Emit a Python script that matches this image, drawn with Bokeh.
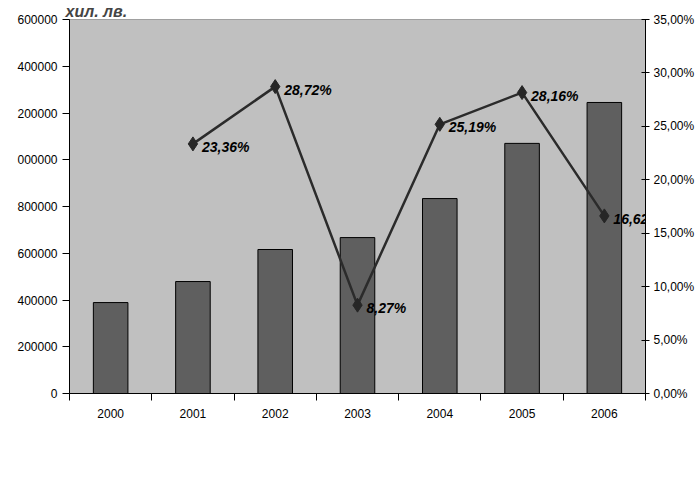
from bokeh.plotting import figure
from bokeh.models import (Range1d, LinearAxis, CategoricalAxis, FixedTicker, Legend,
                          LegendItem, ColumnDataSource, Label)
from bokeh.embed import file_html
from bokeh.resources import INLINE

years = ["2000", "2001", "2002", "2003", "2004", "2005", "2006"]
premium = [389000, 479000, 616000, 667000, 834000, 1070000, 1245000]
growth_years = ["2001", "2002", "2003", "2004", "2005", "2006"]
growth = [23.36, 28.72, 8.27, 25.19, 28.16, 16.62]
left_ticks = [0, 200000, 400000, 600000, 800000, 1000000, 1200000, 1400000, 1600000]
left_tick_labels = ["0", "200000", "400000", "600000", "800000", "000000", "200000", "400000", "600000"]
right_ticks = [0, 5, 10, 15, 20, 25, 30, 35]
right_tick_labels = ["0,00%", "5,00%", "10,00%", "15,00%", "20,00%", "25,00%", "30,00%", "35,00%"]
title_text = "хил. лв."
bar_label = "Брутен премиен приход (хил. лв.)"
line_label = "Годишен ръст (%)"

FONT = "Liberation Sans"

p = figure(x_range=years, y_range=Range1d(0, 1600000),
           frame_width=576, frame_height=374,
           min_border_left=69, min_border_right=45, min_border_top=29, min_border_bottom=10,
           x_axis_location=None, y_axis_location=None,
           output_backend="svg", toolbar_location=None)
p.styles = {"margin-top": "-10px"}
p.extra_y_ranges = {"pct": Range1d(0, 35)}
p.background_fill_color = "#c0c0c0"
p.border_fill_color = "white"
p.outline_line_color = "#a0a0a0"
p.xgrid.visible = False
p.ygrid.visible = False

p.title.text = title_text
p.title.text_font = FONT
p.title.text_font_size = "16px"
p.title.text_font_style = "bold italic"
p.title.align = "left"
p.title.offset = -4
p.title.standoff = 0

left_axis = LinearAxis(ticker=FixedTicker(ticks=left_ticks),
                       major_label_overrides=dict(zip(left_ticks, left_tick_labels)),
                       major_tick_in=0, major_tick_out=7, minor_tick_line_color=None,
                       major_label_standoff=5, axis_line_color="black", major_tick_line_color="black",
                       major_label_text_font=FONT, major_label_text_font_size="12px",
                       major_label_text_color="black")
p.add_layout(left_axis, "left")

right_axis = LinearAxis(y_range_name="pct", ticker=FixedTicker(ticks=right_ticks),
                        major_label_overrides=dict(zip(right_ticks, right_tick_labels)),
                        major_tick_in=4, major_tick_out=4, minor_tick_line_color=None,
                        major_label_standoff=4, axis_line_color="black", major_tick_line_color="black",
                        major_label_text_font=FONT, major_label_text_font_size="12px",
                        major_label_text_color="black")
p.add_layout(right_axis, "right")

bounds = list(range(len(years) + 1))
tick_axis = LinearAxis(ticker=FixedTicker(ticks=bounds),
                       major_label_overrides={b: "" for b in bounds},
                       major_tick_in=0, major_tick_out=7, minor_tick_line_color=None,
                       major_label_text_font_size="1px", major_label_standoff=0,
                       axis_line_color="black", major_tick_line_color="black")
p.add_layout(tick_axis, "below")

cat_axis = CategoricalAxis(axis_line_color=None, major_tick_line_color=None,
                           major_label_standoff=2,
                           major_label_text_font=FONT, major_label_text_font_size="12px",
                           major_label_text_color="black")
p.add_layout(cat_axis, "below")

bars = p.vbar(x=years, top=premium, width=0.42, fill_color="#5f5f5f",
              line_color="black", line_width=1)

gsrc = ColumnDataSource(dict(x=growth_years, y=growth))
line_r = p.line(x="x", y="y", source=gsrc, y_range_name="pct", line_color="#2b2b2b", line_width=2.5)
pts = p.scatter(x="x", y="y", source=gsrc, y_range_name="pct", marker="diamond", size=14,
                fill_color="#262626", line_color="#262626")

for yr, g in zip(growth_years, growth):
    xpos = years.index(yr) + 0.5  # synthetic coordinate of the factor's centre
    p.add_layout(Label(x=xpos, y=g, y_range_name="pct", text=f"{g:.2f}".replace(".", ",") + "%",
                       x_offset=9, y_offset=-3, text_baseline="middle", text_align="left",
                       text_font=FONT, text_font_size="14px", text_font_style="bold italic",
                       text_color="black", level="overlay"))

legend = Legend(items=[LegendItem(label=bar_label, renderers=[bars]),
                       LegendItem(label=line_label, renderers=[line_r, pts])],
                orientation="horizontal", location=(-17, 0),
                border_line_color="black", border_line_width=1,
                background_fill_color="white",
                label_text_font=FONT, label_text_font_size="13px",
                glyph_width=27, glyph_height=9, label_standoff=2, spacing=4,
                padding=3, margin=0)
p.add_layout(legend, "below")

open("out.html", "w").write(file_html(p, INLINE))
